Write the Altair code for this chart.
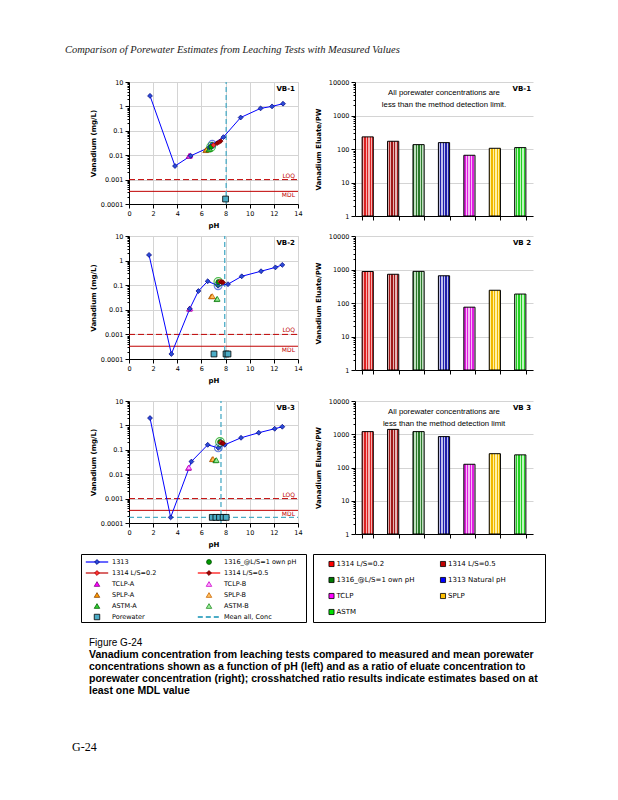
import altair as alt
import pandas as pd

FONT = "DejaVu Sans"
SANS = "Liberation Sans"
SERIF = "Liberation Serif"
GRID = "#d4d4d4"
RED_C = "#c00000"
TEAL = "#4bacc6"

# ---------------- ratio (bar) data ----------------
tests = ["1314 L/S=0.2", "1314 L/S=0.5", "1316_@L/S=1 own pH", "1313 Natural pH", "TCLP", "SPLP", "ASTM"]
vb1_ratio = [230, 170, 135, 155, 65, 105, 110]
vb2_ratio = [870, 720, 880, 650, 75, 240, 185]
vb3_ratio = [1200, 1400, 1200, 850, 125, 260, 240]

# ---------------- pH-dependence data ----------------
tri_tests = ["TCLP-A", "TCLP-B", "SPLP-A", "SPLP-B", "ASTM-A", "ASTM-B"]
loq_value = [0.001]
mdl_value = [0.00033]

vb1_1313_ph = [1.74, 3.81, 5.11, 6.65, 6.9, 7.82, 9.25, 10.9, 11.85, 12.76]
vb1_1313_v = [2.7, 0.0036, 0.0094, 0.021, 0.028, 0.055, 0.35, 0.83, 1.0, 1.29]
vb1_nat_ph = [6.9]
vb1_nat_v = [0.028]
vb1_1316_ph = [6.8]
vb1_1316_v = [0.022]
vb1_1314a_ph = [7.0, 7.45]
vb1_1314a_v = [0.026, 0.034]
vb1_1314b_ph = [7.3, 7.6]
vb1_1314b_v = [0.031, 0.038]
vb1_tri_ph = [4.97, 5.05, 6.35, 6.45, 6.6, 6.7]
vb1_tri_v = [0.0093, 0.0098, 0.016, 0.017, 0.017, 0.018]
vb1_pw_ph = [8.0]
vb1_pw_v = [0.00016]
vb1_mean_ph = [8.05]
vb1_mean_v = []

vb2_1313_ph = [1.66, 3.51, 5.03, 5.75, 6.52, 7.38, 8.2, 9.34, 10.94, 12.13, 12.7]
vb2_1313_v = [1.7, 0.00016, 0.011, 0.058, 0.145, 0.095, 0.11, 0.23, 0.37, 0.53, 0.67]
vb2_nat_ph = [7.38]
vb2_nat_v = [0.095]
vb2_1316_ph = [7.4]
vb2_1316_v = [0.135]
vb2_1314a_ph = [7.55, 7.7]
vb2_1314a_v = [0.14, 0.135]
vb2_1314b_ph = [7.65, 7.8]
vb2_1314b_v = [0.135, 0.13]
vb2_tri_ph = [5.0, 5.06, 6.82, 6.9, 7.27, 7.32]
vb2_tri_v = [0.011, 0.0115, 0.035, 0.036, 0.027, 0.028]
vb2_pw_ph = [7.04, 8.04, 8.2]
vb2_pw_v = [0.00016, 0.00016, 0.00016]
vb2_mean_ph = [7.93]
vb2_mean_v = []

vb3_1313_ph = [1.74, 3.45, 5.17, 6.52, 7.4, 7.93, 9.28, 10.75, 12.07, 12.7]
vb3_1313_v = [2.0, 0.00017, 0.033, 0.16, 0.12, 0.16, 0.31, 0.5, 0.73, 0.88]
vb3_nat_ph = [7.4]
vb3_nat_v = [0.12]
vb3_1316_ph = [7.54]
vb3_1316_v = [0.21]
vb3_1314a_ph = [7.6, 7.75]
vb3_1314a_v = [0.2, 0.19]
vb3_1314b_ph = [7.7, 7.8]
vb3_1314b_v = [0.19, 0.185]
vb3_tri_ph = [4.92, 4.96, 6.9, 6.96, 7.18, 7.24]
vb3_tri_v = [0.018, 0.019, 0.041, 0.042, 0.037, 0.038]
vb3_pw_ph = [6.9, 7.2, 7.5, 7.8, 8.05]
vb3_pw_v = [0.00017, 0.00017, 0.00017, 0.00017, 0.00017]
vb3_mean_ph = [7.62]
vb3_mean_v = [0.00017]

# ---------------- legends ----------------
left_items = ["1313", "1316_@L/S=1 own pH", "1314 L/S=0.2", "1314 L/S=0.5",
              "TCLP-A", "TCLP-B", "SPLP-A", "SPLP-B", "ASTM-A", "ASTM-B",
              "Porewater", "Mean all, Conc"]
right_items = ["1314 L/S=0.2", "1314 L/S=0.5", "1316_@L/S=1 own pH", "1313 Natural pH",
               "TCLP", "SPLP", "ASTM"]

# ---------------- styles ----------------
tri_fill = ["#ff00ff", "#ffa8ff", "#ff9900", "#ffc060", "#33cc33", "#99ee99"]
tri_stroke = ["#800080", "#cc00cc", "#8b4500", "#cc6600", "#006400", "#228b22"]
bar_solid = ["#ff0000", "#c00000", "#007a00", "#0000ff", "#ff00ff", "#ffc000", "#00e000"]
bar_dark = ["#dd2222", "#a01818", "#2a7a2a", "#2222aa", "#e020e0", "#f0b800", "#20d020"]
bar_light = ["#f6b0b0", "#e4b4b4", "#bfe0bf", "#c0c0ec", "#f6bef6", "#fff0a8", "#bff6bf"]

left_style = {
    "1313": dict(line="#0000ff", shape="diamond", fill="#2a4bd7", stroke="#000080", size=24),
    "1316_@L/S=1 own pH": dict(shape="circle", fill="#009900", stroke="#004d00", size=24),
    "1314 L/S=0.2": dict(line="#c00000", shape="diamond", fill="#ff3030", stroke="#a00000", size=24),
    "1314 L/S=0.5": dict(line="#ff0000", shape="diamond", fill="#a00000", stroke="#600000", size=24),
    "Porewater": dict(shape="square", fill=TEAL, stroke="#000000", size=30),
    "Mean all, Conc": dict(line=TEAL, dash=[5, 3], width=2),
}
for t, f, s in zip(tri_tests, tri_fill, tri_stroke):
    left_style[t] = dict(shape="triangle-up", fill=f, stroke=s, size=30)

TEST = "abs(log(datum.value)/LN10 - round(log(datum.value)/LN10)) < 0.01"


def log_axis(vals, title_x=-36):
    return alt.Axis(
        values=vals, labelExpr=f"({TEST}) ? format(datum.value, '') : ''",
        tickSize={"condition": {"test": TEST, "value": 4}, "value": 2},
        gridOpacity={"condition": {"test": TEST, "value": 1}, "value": 0},
        grid=True, gridColor=GRID, domainColor="black", tickColor="black",
        labelFont=FONT, labelFontSize=6.5, labelPadding=2, labelOverlap=False,
        labelColor="black", titleColor="black",
        titleFont=FONT, titleFontSize=7, titleFontWeight="bold",
        titleX=title_x, titleBaseline="middle",
    )


left_vals = [round(m * 10 ** e, 6) for e in range(-4, 1) for m in range(1, 10)] + [10]
right_vals = [round(m * 10 ** e) for e in range(0, 4) for m in range(1, 10)] + [10000]
ph_ticks = [0, 2, 4, 6, 8, 10, 12, 14]


def spacer(w, h):
    return alt.Chart(pd.DataFrame({"a": [0]})).mark_rect(opacity=0).encode(
        x=alt.value(0), x2=alt.value(w), y=alt.value(0), y2=alt.value(h)
    ).properties(width=w, height=h)


def left_panel(name, s, h):
    xs = alt.Scale(domain=[0, 14], nice=False, zero=False)
    ys = alt.Scale(type="log", domain=[0.0001, 10], nice=False)
    xax = alt.Axis(values=ph_ticks, tickCount=8, grid=True, gridColor=GRID, tickSize=4,
                   tickColor="black", domainColor="black", labelFont=FONT, labelFontSize=6.5,
                   labelFlush=False, labelOverlap=False, labelPadding=2, labelColor="black",
                   titleColor="black", titleFont=FONT, titleFontSize=7, titleFontWeight="bold",
                   titlePadding=5)
    X = alt.X("ph:Q", scale=xs, axis=xax, title="pH")
    Y = alt.Y("v:Q", scale=ys, axis=log_axis(left_vals), title="Vanadium (mg/L)")

    def d(ph, v):
        return pd.DataFrame({"ph": ph, "v": v})

    layers = [
        alt.Chart(d([0, 14], loq_value * 2)).mark_line(color=RED_C, strokeDash=[6, 3], strokeWidth=1).encode(x=X, y=Y),
        alt.Chart(d([0, 14], mdl_value * 2)).mark_line(color=RED_C, strokeWidth=1).encode(x=X, y=Y),
        alt.Chart(d(s["mean_ph"] * 2, [0.0001, 10])).mark_line(color=TEAL, strokeDash=[5, 3], strokeWidth=1.3).encode(x=X, y=Y),
    ]
    if s["mean_v"]:
        layers.append(alt.Chart(d([0, 14], s["mean_v"] * 2)).mark_line(color=TEAL, strokeDash=[5, 3], strokeWidth=1.3).encode(x=X, y=Y))
    layers += [
        alt.Chart(d(s["ph"], s["v"])).mark_line(color="#0000ff", strokeWidth=1).encode(x=X, y=Y),
        alt.Chart(d(s["1314a_ph"], s["1314a_v"])).mark_line(color="#c00000", strokeWidth=1).encode(x=X, y=Y),
        alt.Chart(d(s["1314b_ph"], s["1314b_v"])).mark_line(color="#ff0000", strokeWidth=1).encode(x=X, y=Y),
        alt.Chart(d(s["pw_ph"], s["pw_v"])).mark_point(shape="square", filled=True, fill=TEAL, stroke="black",
                                                      strokeWidth=0.8, size=34, opacity=1).encode(x=X, y=Y),
    ]
    for i, t in enumerate(tri_tests):
        layers.append(alt.Chart(d([s["tri_ph"][i]], [s["tri_v"][i]])).mark_point(
            shape="triangle-up", filled=True, fill=tri_fill[i], stroke=tri_stroke[i], strokeWidth=0.8,
            size=30, opacity=1).encode(x=X, y=Y))
    layers += [
        alt.Chart(d(s["ph"], s["v"])).mark_point(shape="diamond", filled=True, fill="#2a4bd7", stroke="#000080",
                                                strokeWidth=0.7, size=24, opacity=1).encode(x=X, y=Y),
        alt.Chart(d(s["nat_ph"], s["nat_v"])).mark_point(shape="circle", filled=False, stroke="#2a4bd7",
                                                        strokeWidth=1.1, size=60).encode(x=X, y=Y),
        alt.Chart(d(s["1316_ph"], s["1316_v"])).mark_point(shape="circle", filled=False, stroke="#00a000",
                                                          strokeWidth=1.1, size=75).encode(x=X, y=Y),
        alt.Chart(d(s["1316_ph"], s["1316_v"])).mark_point(shape="circle", filled=True, fill="#009900",
                                                          stroke="#004d00", strokeWidth=0.7, size=24, opacity=1).encode(x=X, y=Y),
        alt.Chart(d(s["1314a_ph"], s["1314a_v"])).mark_point(shape="diamond", filled=True, fill="#ff3030",
                                                            stroke="#a00000", strokeWidth=0.7, size=22, opacity=1).encode(x=X, y=Y),
        alt.Chart(d(s["1314b_ph"], s["1314b_v"])).mark_point(shape="diamond", filled=True, fill="#a00000",
                                                            stroke="#600000", strokeWidth=0.7, size=22, opacity=1).encode(x=X, y=Y),
    ]
    lab = pd.DataFrame({"ph": [13.75], "v": [7.3], "t": [name]})
    loq = pd.DataFrame({"ph": [13.75], "v": loq_value, "t": ["LOQ"]})
    mdl = pd.DataFrame({"ph": [13.75], "v": mdl_value, "t": ["MDL"]})
    layers += [
        alt.Chart(lab).mark_text(align="right", baseline="top", font=FONT, fontSize=7, fontWeight="bold",
                                 color="black").encode(x=X, y=Y, text="t:N"),
        alt.Chart(loq).mark_text(align="right", baseline="bottom", dy=-1, font=FONT, fontSize=6,
                                 color=RED_C).encode(x=X, y=Y, text="t:N"),
        alt.Chart(mdl).mark_text(align="right", baseline="top", dy=1, font=FONT, fontSize=6,
                                 color=RED_C).encode(x=X, y=Y, text="t:N"),
    ]
    return alt.layer(*layers).properties(width=169, height=h, view=alt.ViewBackground(stroke=GRID))


def hatch(dark, light, n=14):
    stops = []
    for i in range(n):
        c = dark if i % 2 == 0 else light
        stops.append({"offset": i / n, "color": c})
        stops.append({"offset": (i + 1) / n, "color": c})
    return {"gradient": "linear", "x1": 0, "y1": 0, "x2": 1, "y2": 0, "stops": stops}


def right_panel(name, ratios, note, h):
    df = pd.DataFrame({"test": tests, "r": ratios, "base": [1] * len(tests)})
    xs = alt.Scale(domain=tests, paddingInner=0.56, paddingOuter=0.28)
    X = alt.X("test:N", scale=xs, axis=alt.Axis(labels=False, title=None, tickBand="extent", tickSize=4,
                                                 tickColor="black", domainColor="black", grid=False))
    Y = alt.Y("r:Q", scale=alt.Scale(type="log", domain=[1, 10000], nice=False), axis=log_axis(right_vals, -37),
              title="Vanadium Eluate/PW")
    layers = []
    for i, t in enumerate(tests):
        layers.append(alt.Chart(df).transform_filter(alt.datum.test == t).mark_bar(
            fill=hatch(bar_dark[i], bar_light[i]), stroke="black", strokeWidth=1
        ).encode(x=X, y=Y, y2="base:Q"))
    one = pd.DataFrame({"t": [name]})
    layers.append(alt.Chart(one).mark_text(align="right", baseline="top", font=FONT, fontSize=7,
                                           fontWeight="bold", color="black").encode(
        x=alt.value(176), y=alt.value(3), text="t:N"))
    if note:
        nd = pd.DataFrame({"test": ["1313 Natural pH"], "r": [6200]})
        layers.append(alt.Chart(nd).mark_text(
            text=note, align="center", baseline="top", font=SANS, fontSize=7.8, lineHeight=12, color="black"
        ).encode(x=X, y=Y))
    return alt.layer(*layers).properties(width=178, height=h)


def series(p):
    g = globals()
    keys = ["1313_ph", "1313_v", "nat_ph", "nat_v", "1316_ph", "1316_v", "1314a_ph", "1314a_v",
            "1314b_ph", "1314b_v", "tri_ph", "tri_v", "pw_ph", "pw_v", "mean_ph", "mean_v"]
    s = {k: g[f"{p}_{k}"] for k in keys}
    s["ph"] = s.pop("1313_ph")
    s["v"] = s.pop("1313_v")
    return s


note1 = ["All porewater concentrations are", "less than the method detection limit."]
note3 = ["All porewater concentrations are", "less than the method detection limit"]


def row(left, right):
    return alt.hconcat(spacer(80, 1), alt.hconcat(left, right, spacing=10), spacing=0)


def legend_left():
    W, H = 225, 68
    n = len(left_items)
    df = pd.DataFrame({"label": left_items, "col": [i % 2 for i in range(n)], "row": [i // 2 for i in range(n)]})
    xs = alt.Scale(domain=[-16 / 112, (W - 16) / 112], nice=False, zero=False)
    ys = alt.Scale(domain=[-8 / 11, (H - 8) / 11], nice=False, zero=False, reverse=True)
    X = alt.X("col:Q", scale=xs, axis=None)
    Y = alt.Y("row:Q", scale=ys, axis=None)
    layers = []
    for lab in left_items:
        st = left_style[lab]
        sub = alt.Chart(df).transform_filter(alt.datum.label == lab)
        if "line" in st:
            kw = dict(color=st["line"], strokeWidth=st.get("width", 1.2))
            if "dash" in st:
                kw["strokeDash"] = st["dash"]
            layers.append(sub.transform_calculate(x0="datum.col - 0.1", x1="datum.col + 0.1").mark_rule(**kw).encode(
                x=alt.X("x0:Q", scale=xs, axis=None), x2="x1:Q", y=Y))
        if "shape" in st:
            layers.append(sub.mark_point(shape=st["shape"], filled=True, fill=st["fill"], stroke=st["stroke"],
                                         strokeWidth=0.8, size=st["size"], opacity=1).encode(x=X, y=Y))
    layers.append(alt.Chart(df).mark_text(align="left", dx=15, font=FONT, fontSize=6.5, color="black").encode(
        x=X, y=Y, text="label:N"))
    return alt.layer(*layers).properties(width=W, height=H, view=alt.ViewBackground(stroke="black", strokeWidth=1))


def legend_right():
    W, H = 232, 68
    n = len(right_items)
    df = pd.DataFrame({"label": right_items, "col": [i % 2 for i in range(n)], "row": [i // 2 for i in range(n)]})
    xs = alt.Scale(domain=[-18.5 / 111.5, (W - 18.5) / 111.5], nice=False, zero=False)
    ys = alt.Scale(domain=[-10 / 16, (H - 10) / 16], nice=False, zero=False, reverse=True)
    X = alt.X("col:Q", scale=xs, axis=None)
    Y = alt.Y("row:Q", scale=ys, axis=None)
    sq = alt.Chart(df).mark_point(shape="square", filled=True, stroke="black", strokeWidth=0.8, size=26,
                                  opacity=1).encode(
        x=X, y=Y, fill=alt.Fill("label:N", scale=alt.Scale(domain=right_items, range=bar_solid), legend=None))
    tx = alt.Chart(df).mark_text(align="left", dx=5, font=FONT, fontSize=7, color="black").encode(
        x=X, y=Y, text="label:N")
    return alt.layer(sq, tx).properties(width=W, height=H, view=alt.ViewBackground(stroke="black", strokeWidth=1))


def text_chart(items, w, h):
    layers = []
    for t, x, y, kw in items:
        layers.append(alt.Chart(pd.DataFrame({"t": [t]})).mark_text(align="left", baseline="middle", **kw).encode(
            x=alt.value(x), y=alt.value(y), text="t:N"))
    return alt.layer(*layers).properties(width=w, height=h)


header = text_chart([
    ("Comparison of Porewater Estimates from Leaching Tests with Measured Values", 57, 42,
     dict(font=SERIF, fontSize=10.5, fontStyle="italic", color="#222222")),
], 560, 70)

cap_kw = dict(font=SANS, fontSize=10.5, fontWeight="bold", color="black")
caption = text_chart([
    ("Figure G-24", 81, 19.7, dict(font=SANS, fontSize=10, color="black")),
    ("Vanadium concentration from leaching tests compared to measured and mean porewater", 81, 31.7, cap_kw),
    ("concentrations shown as a function of pH (left) and as a ratio of eluate concentration to", 81, 43.7, cap_kw),
    ("porewater concentration (right); crosshatched ratio results indicate estimates based on at", 81, 55.7, cap_kw),
    ("least one MDL value", 81, 67.7, cap_kw),
    ("G-24", 64, 123.7, dict(font=SERIF, fontSize=12, color="black")),
], 560, 135)

legend_row = alt.hconcat(spacer(67, 1), legend_left(), legend_right(), spacing=5)

chart = alt.vconcat(
    header,
    row(left_panel("VB-1", series("vb1"), 122), right_panel("VB-1", vb1_ratio, note1, 134)),
    spacer(1, 3),
    row(left_panel("VB-2", series("vb2"), 123), right_panel("VB 2", vb2_ratio, None, 134)),
    spacer(1, 13),
    row(left_panel("VB-3", series("vb3"), 122), right_panel("VB 3", vb3_ratio, note3, 133)),
    spacer(1, 5),
    legend_row,
    caption,
    spacing=0,
).properties(padding=0, background="white").configure_view(stroke=None).configure_concat(spacing=0)

chart.save("out.html", embed_options={"renderer": "svg", "actions": False})
